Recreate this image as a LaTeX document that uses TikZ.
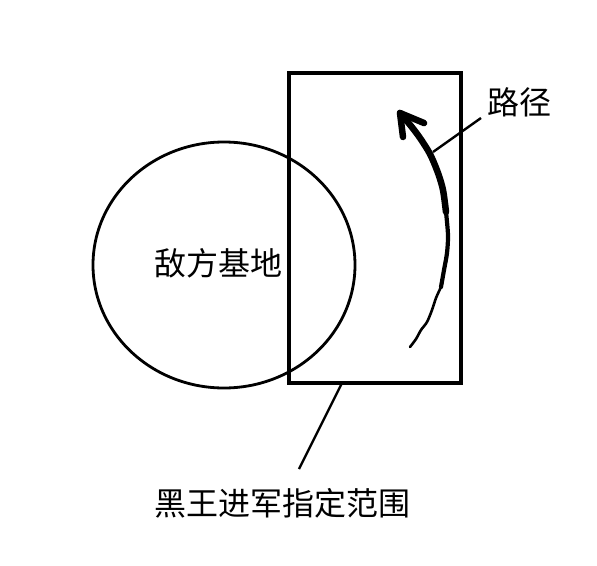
\documentclass[tikz,border=0pt]{standalone}
\usepackage{fontspec}
\newfontfamily\cjk{Noto Sans CJK SC}
\usetikzlibrary{calc}

\begin{document}
\begin{tikzpicture}[x=1pt, y=-1pt,
  outline/.style={line width=2.8pt},
  frame/.style={line width=3.6pt},
  leader/.style={line width=2.4pt},
  route/.style={line cap=round, line join=round},
  label/.style={font=\cjk\fontsize{32}{32}\selectfont, inner sep=1pt}]
\useasboundingbox (0,0) rectangle (597,565);
% base and region
\draw[outline] (224,265) ellipse [x radius=131, y radius=123];
\draw[frame] (289,73) rectangle (461,383);
\node[label] (base) at (218,263) {敌方基地};
% path
\coordinate (p0) at (410,347);
\coordinate (p1) at (441,287);
\coordinate (p2) at (446,212);
\coordinate (tip) at (400,113);
\draw[route, line width=2.6pt] plot[smooth] coordinates {(p0) (416,339) (421,330) (427,322) (432,310) (436,298) (p1)};
\draw[route, line width=4.2pt] plot[smooth] coordinates {(p1) (444,270) (447,253) (448,235) (p2)};
\draw[route, line width=6.5pt] plot[smooth] coordinates {(p2) (443,190) (438,173) (430,154) (420,138) (411,126) (tip)};
\draw[route, line width=6.5pt] (tip) -- (403,137);
\draw[route, line width=6.5pt] (tip) -- (424,123);
% labels
\coordinate (pathpt) at (433,152);
\node[label] (pathlbl) at (519,102) {路径};
\draw[leader] (pathpt) -- (481,118);
\coordinate (framept) at (342,383);
\coordinate (rangeend) at (299,469);
\node[label] (range) at (282,503) {黑王进军指定范围};
\draw[leader] (framept) -- (rangeend);
\end{tikzpicture}
\end{document}
